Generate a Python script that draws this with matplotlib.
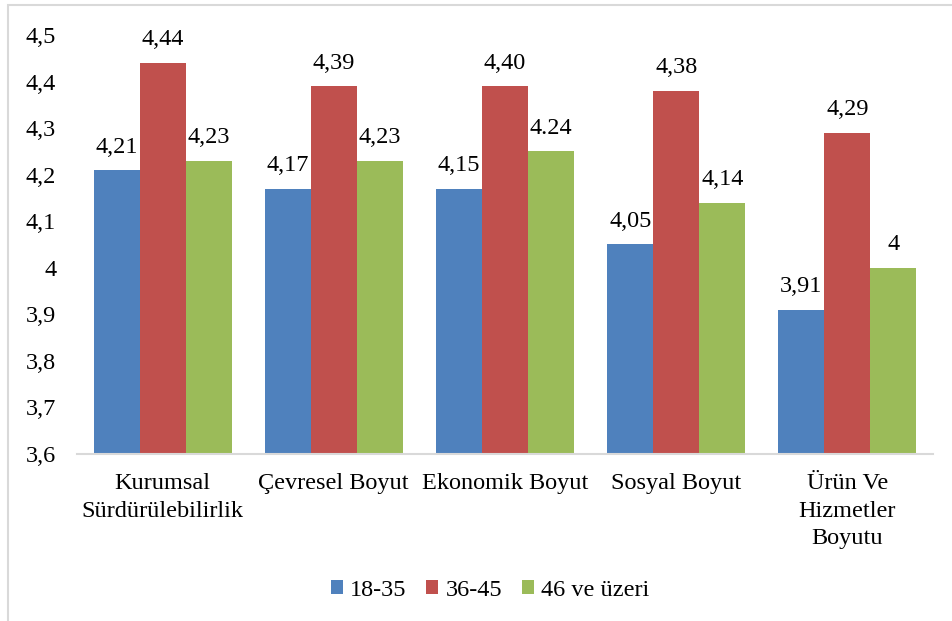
import matplotlib.pyplot as plt
from matplotlib.patches import Rectangle, Patch
import numpy as np

categories = ['Kurumsal\nSürdürülebilirlik', 'Çevresel Boyut', 'Ekonomik Boyut',
              'Sosyal Boyut', 'Ürün Ve\nHizmetler\nBoyutu']
series_names = ['18-35', '36-45', '46 ve üzeri']
# bar heights as drawn in the picture
young = [4.21, 4.17, 4.17, 4.05, 3.91]
middle = [4.44, 4.39, 4.39, 4.38, 4.29]
older = [4.23, 4.23, 4.25, 4.14, 4.00]
# data labels as printed on the chart
young_labels = ['4,21', '4,17', '4,15', '4,05', '3,91']
middle_labels = ['4,44', '4,39', '4,40', '4,38', '4,29']
older_labels = ['4,23', '4,23', '4.24', '4,14', '4']
y_ticks = [3.6, 3.7, 3.8, 3.9, 4.0, 4.1, 4.2, 4.3, 4.4, 4.5]
y_tick_labels = ['3,6', '3,7', '3,8', '3,9', '4', '4,1', '4,2', '4,3', '4,4', '4,5']

colors = ['#4F81BD', '#C0504D', '#9BBB59']
plt.rcParams['font.family'] = 'serif'
plt.rcParams['font.serif'] = ['Liberation Serif', 'DejaVu Serif']
fs = 17.5

W, H = 953, 621
fig = plt.figure(figsize=(W / 100, H / 100), dpi=100)
ax = fig.add_axes([77 / W, (H - 454) / H, (933 - 77) / W, (454 - 35) / H])

# outer chart border (cut at right and bottom)
fig.patches.append(Rectangle((8.5 / W, -0.1), 1.2, (H - 5) / H + 0.1,
                             transform=fig.transFigure, fill=False,
                             edgecolor='#d9d9d9', linewidth=1.5, clip_on=False))

x = np.arange(len(categories))
w = 46 / 171.2
for i, (vals, labs) in enumerate(zip([young, middle, older],
                                     [young_labels, middle_labels, older_labels])):
    pos = x + (i - 1) * w
    ax.bar(pos, np.array(vals) - 3.6, bottom=3.6, width=w, color=colors[i],
           edgecolor='none', label=series_names[i])
    for p, v, t in zip(pos, vals, labs):
        ax.annotate(t, (p, v), xytext=(0, 9), textcoords='offset points',
                    ha='center', va='bottom', fontsize=fs)

ax.set_xlim(-0.5, len(categories) - 0.5)
ax.set_ylim(3.6, 4.5)
ax.set_yticks(y_ticks)
ax.set_yticklabels(y_tick_labels, fontsize=fs)
ax.set_xticks(x)
ax.set_xticklabels(categories, fontsize=fs, linespacing=1.38)
ax.tick_params(axis='y', length=0, pad=15)
ax.tick_params(axis='x', length=0, pad=14)
for s in ['left', 'right', 'top']:
    ax.spines[s].set_visible(False)
ax.spines['bottom'].set_color('#d9d9d9')
ax.spines['bottom'].set_linewidth(1.5)

handles = [Patch(facecolor=c, edgecolor='none') for c in colors]
fig.legend(handles, series_names, loc='center', bbox_to_anchor=(490 / W, (H - 590) / H),
           ncol=3, frameon=False, fontsize=fs, handlelength=0.5, handleheight=0.5,
           handletextpad=0.3, columnspacing=0.8)

fig.savefig('out.png', dpi=100)
